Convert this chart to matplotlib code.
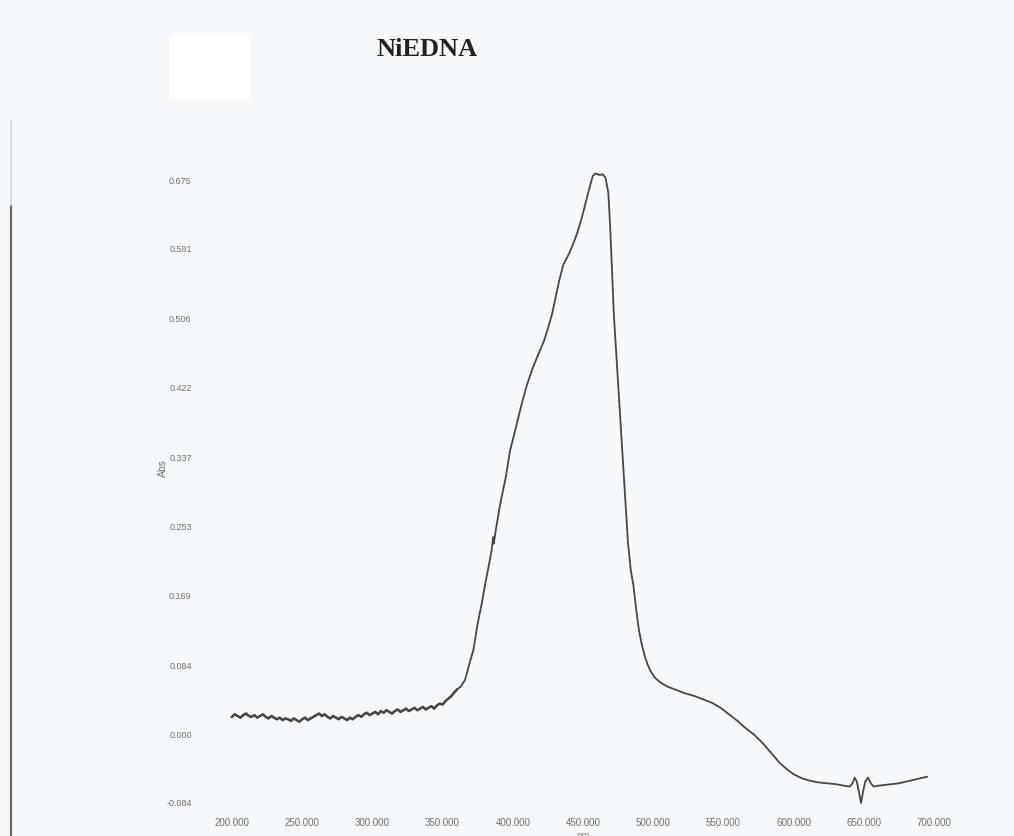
import numpy as np
import matplotlib.pyplot as plt
from matplotlib.patches import Rectangle
from matplotlib.lines import Line2D

plt.rcParams['font.family'] = ['Liberation Sans', 'DejaVu Sans']

# baseline region, 2 nm steps
base_nm = list(range(200, 362, 2))
base_abs = [0.021, 0.024, 0.022, 0.020, 0.023, 0.025, 0.022, 0.021, 0.023, 0.020,
            0.022, 0.024, 0.021, 0.019, 0.022, 0.020, 0.018, 0.020, 0.017, 0.019,
            0.018, 0.016, 0.019, 0.017, 0.015, 0.018, 0.020, 0.017, 0.019, 0.021,
            0.023, 0.025, 0.022, 0.024, 0.021, 0.019, 0.022, 0.020, 0.018, 0.021,
            0.019, 0.017, 0.020, 0.018, 0.021, 0.023, 0.021, 0.024, 0.026, 0.023,
            0.025, 0.027, 0.024, 0.028, 0.026, 0.029, 0.027, 0.025, 0.028, 0.030,
            0.027, 0.029, 0.031, 0.028, 0.030, 0.032, 0.029, 0.031, 0.033, 0.030,
            0.032, 0.034, 0.031, 0.035, 0.037, 0.036, 0.040, 0.043, 0.046, 0.050,
            0.054]

# absorption band and long-wavelength tail
band_nm = [363, 366, 369, 372, 375, 378, 380, 383, 385, 386, 386.5, 388, 391, 395,
           398, 402, 406, 410, 414, 418, 422, 425, 428, 430, 433, 436, 440, 443,
           446, 449, 452, 455, 457, 459, 462, 464, 466, 468, 469, 470, 472, 474,
           476, 478, 480, 482, 484, 486, 488, 490, 492, 494, 496, 498, 501, 505,
           510, 516, 522, 530, 536, 542, 548, 554, 560, 566, 572, 578, 584, 590,
           596, 600, 606, 612, 618, 624, 630, 636, 640, 642, 643.5, 645, 646.5,
           648, 649.5, 651, 653, 655, 657, 660, 665, 670, 675, 680, 685, 690, 695]
band_abs = [0.058, 0.066, 0.085, 0.103, 0.135, 0.160, 0.180, 0.206, 0.225, 0.240,
            0.232, 0.250, 0.280, 0.313, 0.345, 0.372, 0.400, 0.425, 0.445, 0.462,
            0.478, 0.494, 0.512, 0.528, 0.552, 0.572, 0.585, 0.597, 0.611, 0.628,
            0.648, 0.668, 0.680, 0.683, 0.681, 0.682, 0.678, 0.660, 0.630, 0.592,
            0.510, 0.455, 0.400, 0.345, 0.290, 0.234, 0.200, 0.180, 0.150, 0.125,
            0.108, 0.095, 0.085, 0.077, 0.069, 0.063, 0.058, 0.054, 0.050, 0.046,
            0.042, 0.038, 0.032, 0.024, 0.016, 0.007, -0.001, -0.011, -0.023, -0.035,
            -0.044, -0.049, -0.054, -0.057, -0.059, -0.060, -0.061, -0.063, -0.064,
            -0.060, -0.053, -0.058, -0.070, -0.084, -0.070, -0.058, -0.053, -0.060,
            -0.064, -0.063, -0.062, -0.061, -0.060, -0.058, -0.056, -0.054, -0.052]

wavelength = np.array(base_nm + band_nm, dtype=float)
absorbance = np.array(base_abs + band_abs)

x_ticks = [200, 250, 300, 350, 400, 450, 500, 550, 600, 650, 700]
y_ticks = [-0.084, 0.000, 0.084, 0.169, 0.253, 0.337, 0.422, 0.506, 0.591, 0.675]

W, H = 1014, 836
fig = plt.figure(figsize=(W / 100, H / 100), dpi=100)
fig.patch.set_facecolor('#f5f9fb')

# scanner edge and blank label patch
fig.add_artist(Rectangle((170 / W, 1 - 100 / H), 80 / W, 65 / H,
                         transform=fig.transFigure, facecolor='white', edgecolor='none'))
fig.add_artist(Line2D([11 / W, 11 / W], [0, 1 - 205 / H], transform=fig.transFigure,
                      color='#6a6a6a', lw=1.6))
fig.add_artist(Line2D([11 / W, 11 / W], [1 - 205 / H, 1 - 120 / H], transform=fig.transFigure,
                      color='#d8dcde', lw=1.2))

ax = fig.add_axes([232 / W, 1 - 803 / H, 702 / W, 623 / H])
ax.set_facecolor('none')
# noisy baseline drawn a bit heavier, then the full trace
ax.plot(base_nm, base_abs, color='#4a4a4a', lw=1.8, clip_on=False)
ax.plot(wavelength, absorbance, color='#474747', lw=1.3, clip_on=False)

ax.set_xlim(200, 700)
ax.set_ylim(-0.084, 0.675)
ax.set_xticks(x_ticks)
ax.set_xticklabels([f'{v:.3f}' for v in x_ticks], fontsize=7, color='#707070')
ax.set_yticks(y_ticks)
ax.set_yticklabels([f'{v:.3f}' for v in y_ticks], fontsize=6.5, color='#707070')
ax.tick_params(axis='x', length=0, pad=11)
ax.tick_params(axis='y', length=0, pad=29)
for s in ax.spines.values():
    s.set_visible(False)

fig.text(163 / W, 1 - 468 / H, 'Abs', rotation=90, fontsize=7.5, color='#707070',
         ha='center', va='center')
fig.text(583 / W, 1 - 836 / H, 'nm', fontsize=7, color='#909090', ha='center', va='center')
fig.text(427 / W, 1 - 50 / H, 'NiEDNA', fontsize=19, fontweight='bold',
         family='Liberation Serif', color='#222222', ha='center', va='center')

fig.savefig('out.png', dpi=100, facecolor=fig.get_facecolor())
